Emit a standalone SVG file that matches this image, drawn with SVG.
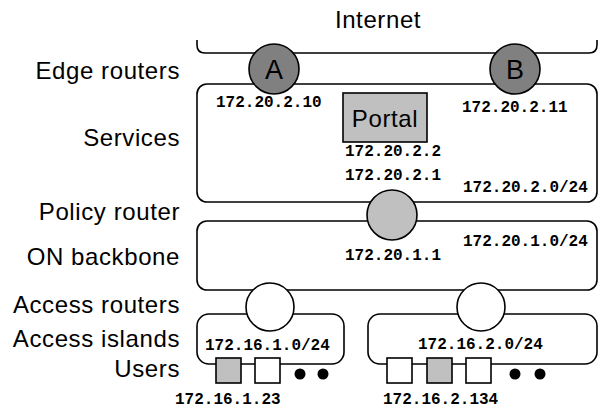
<svg xmlns="http://www.w3.org/2000/svg" width="599" height="409" viewBox="0 0 599 409">
<style>
.ln{fill:none;stroke:#000;stroke-width:1.6}
.box{fill:#fff;stroke:#000;stroke-width:1.6}
.lblc{font-family:"Liberation Sans",Arial,sans-serif;font-size:24px;letter-spacing:0.6px;fill:#000;text-anchor:middle}
.lbll{font-family:"Liberation Sans",Arial,sans-serif;font-size:24px;letter-spacing:0.6px;fill:#000;text-anchor:end}
.rl{font-family:"Liberation Sans",Arial,sans-serif;font-size:27px;fill:#000;text-anchor:middle}
.ip{font-family:"Liberation Mono","Courier New",monospace;font-size:16px;font-weight:bold;fill:#000}
.dark{fill:#808080;stroke:#000;stroke-width:1.6}
.grey{fill:#c0c0c0;stroke:#000;stroke-width:1.6}
.white{fill:#fff;stroke:#000;stroke-width:1.6}
</style>
<rect width="599" height="409" fill="#fff"/>
<g id="labels">
<text class="lbll" x="180" y="79">Edge routers</text>
<text class="lbll" x="180" y="146">Services</text>
<text class="lbll" x="180" y="220">Policy router</text>
<text class="lbll" x="180" y="265">ON backbone</text>
<text class="lbll" x="180" y="313">Access routers</text>
<text class="lbll" x="180" y="347">Access islands</text>
<text class="lbll" x="180" y="377">Users</text>
</g>
<g id="internet">
<path class="ln" d="M197,40 V45 Q197,53 205,53 H589 Q597,53 597,45 V40"/>
<text class="lblc" x="378" y="28">Internet</text>
</g>
<g id="services">
<rect class="box" x="197" y="84" width="400" height="118" rx="10"/>
<text class="ip" x="216" y="107">172.20.2.10</text>
<text class="ip" x="462" y="112">172.20.2.11</text>
<text class="ip" x="345" y="180">172.20.2.1</text>
<text class="ip" x="463" y="192">172.20.2.0/24</text>
</g>
<g id="portal">
<rect class="grey" x="343" y="93" width="84" height="49"/>
<text class="lblc" x="385" y="127">Portal</text>
<text class="ip" x="345" y="156">172.20.2.2</text>
</g>
<g id="backbone">
<rect class="box" x="197" y="221" width="400" height="69" rx="10"/>
<text class="ip" x="463" y="246">172.20.1.0/24</text>
<text class="ip" x="345" y="260">172.20.1.1</text>
</g>
<g id="island1">
<rect class="box" x="197" y="314" width="147" height="50" rx="12"/>
<text class="ip" x="205" y="350">172.16.1.0/24</text>
</g>
<g id="island2">
<rect class="box" x="368" y="314" width="229" height="50" rx="12"/>
<text class="ip" x="418" y="349">172.16.2.0/24</text>
</g>
<g id="routerA">
<circle class="dark" cx="274" cy="69" r="25"/>
<text class="rl" x="274" y="79">A</text>
</g>
<g id="routerB">
<circle class="dark" cx="515" cy="69" r="25"/>
<text class="rl" x="515" y="79">B</text>
</g>
<g id="policyRouter">
<circle class="grey" cx="392" cy="215" r="25"/>
</g>
<g id="accessRouter1">
<circle class="white" cx="270" cy="307" r="24"/>
</g>
<g id="accessRouter2">
<circle class="white" cx="481" cy="307" r="24"/>
</g>
<g id="users1">
<rect class="grey" x="216" y="358" width="25" height="25"/>
<rect class="white" x="255" y="358" width="25" height="25"/>
<circle cx="300" cy="374" r="5.5" fill="#000"/>
<circle cx="323" cy="374" r="5.5" fill="#000"/>
<text class="ip" x="175" y="404">172.16.1.23</text>
</g>
<g id="users2">
<rect class="white" x="387" y="358" width="25" height="25"/>
<rect class="grey" x="427" y="358" width="25" height="25"/>
<rect class="white" x="466" y="358" width="25" height="25"/>
<circle cx="515" cy="374" r="5.5" fill="#000"/>
<circle cx="540" cy="374" r="5.5" fill="#000"/>
<text class="ip" x="383" y="404">172.16.2.134</text>
</g>
</svg>
